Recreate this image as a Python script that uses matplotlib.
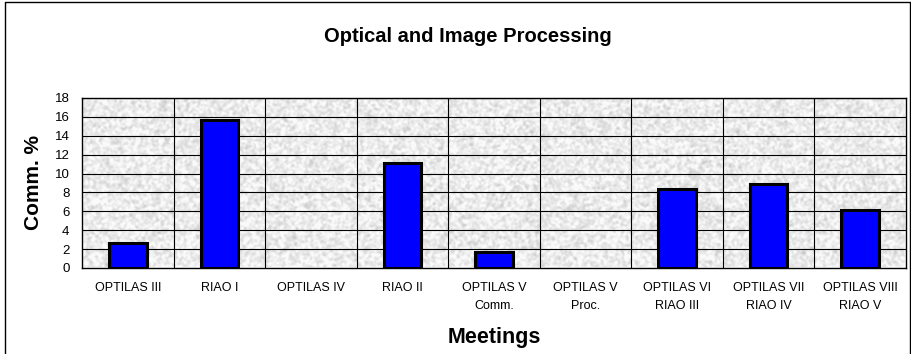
import numpy as np
import matplotlib
matplotlib.use("Agg")
import matplotlib.pyplot as plt
from matplotlib.lines import Line2D

meetings = ["OPTILAS III", "RIAO I", "OPTILAS IV", "RIAO II", "OPTILAS V\nComm.",
            "OPTILAS V\nProc.", "OPTILAS VI\nRIAO III", "OPTILAS VII\nRIAO IV",
            "OPTILAS VIII\nRIAO V"]
comm_pct = [2.6, 15.7, 0.0, 11.1, 1.7, 0.0, 8.4, 8.9, 6.1]
y_ticks = [0, 2, 4, 6, 8, 10, 12, 14, 16, 18]

plt.rcParams['font.family'] = ['Liberation Sans', 'DejaVu Sans']

W, H = 912, 354
fig = plt.figure(figsize=(W / 100, H / 100), dpi=100)
ax = fig.add_axes([82 / W, 1 - 268 / H, (906 - 82) / W, (268 - 98) / H])

n = len(meetings)
ax.set_xlim(-0.5, n - 0.5)
ax.set_ylim(0, 18)

# granite-like plot area background
rng = np.random.default_rng(7)
noise = rng.random((170, 824))
k = np.array([1, 2, 1]) / 4
for _ in range(2):
    noise = np.apply_along_axis(lambda r: np.convolve(r, k, mode='same'), 1, noise)
    noise = np.apply_along_axis(lambda c: np.convolve(c, k, mode='same'), 0, noise)
noise = (noise - noise.mean()) / noise.std()
tex = np.clip(0.925 - 0.04 * noise, 0.74, 0.98)
ax.imshow(tex, cmap='gray', vmin=0, vmax=1, extent=(-0.5, n - 0.5, 0, 18),
          aspect='auto', zorder=0, interpolation='nearest')

for yv in y_ticks[1:]:
    ax.axhline(yv, color='black', lw=0.8, zorder=1)
for i in range(1, n):
    ax.axvline(i - 0.5, color='black', lw=0.8, zorder=1)

x = np.arange(n)
vals = np.array(comm_pct)
shown = vals > 0
ax.bar(x[shown], vals[shown], width=0.41, color='#0000ff', edgecolor='black',
       linewidth=2.2, zorder=3)

ax.set_yticks(y_ticks)
ax.set_yticklabels([str(v) for v in y_ticks], fontsize=9.5)
ax.set_xticks(x)
ax.set_xticklabels(meetings, fontsize=9, linespacing=1.7, va='top')
ax.tick_params(axis='both', length=0)
ax.tick_params(axis='y', pad=9)
ax.tick_params(axis='x', pad=10)
for s in ax.spines.values():
    s.set_color('black')
    s.set_linewidth(1.0)

fig.text(468 / W, 1 - 42 / H, "Optical and Image Processing",
         ha='center', va='baseline', fontsize=14.5, fontweight='bold')
fig.text(34 / W, 1 - 183 / H, "Comm. %", ha='center', va='center',
         rotation=90, fontsize=15, fontweight='bold')
fig.text(494 / W, 1 - 343 / H, "Meetings", ha='center', va='baseline',
         fontsize=15.5, fontweight='bold')

# chart frame (left, top, right edges)
fx = [5.5 / W, 5.5 / W, 910.5 / W, 910.5 / W]
fy = [0, 1 - 1.5 / H, 1 - 1.5 / H, 0]
fig.add_artist(Line2D(fx, fy, color='black', lw=1.0, transform=fig.transFigure))

fig.savefig("out.png", dpi=100)
